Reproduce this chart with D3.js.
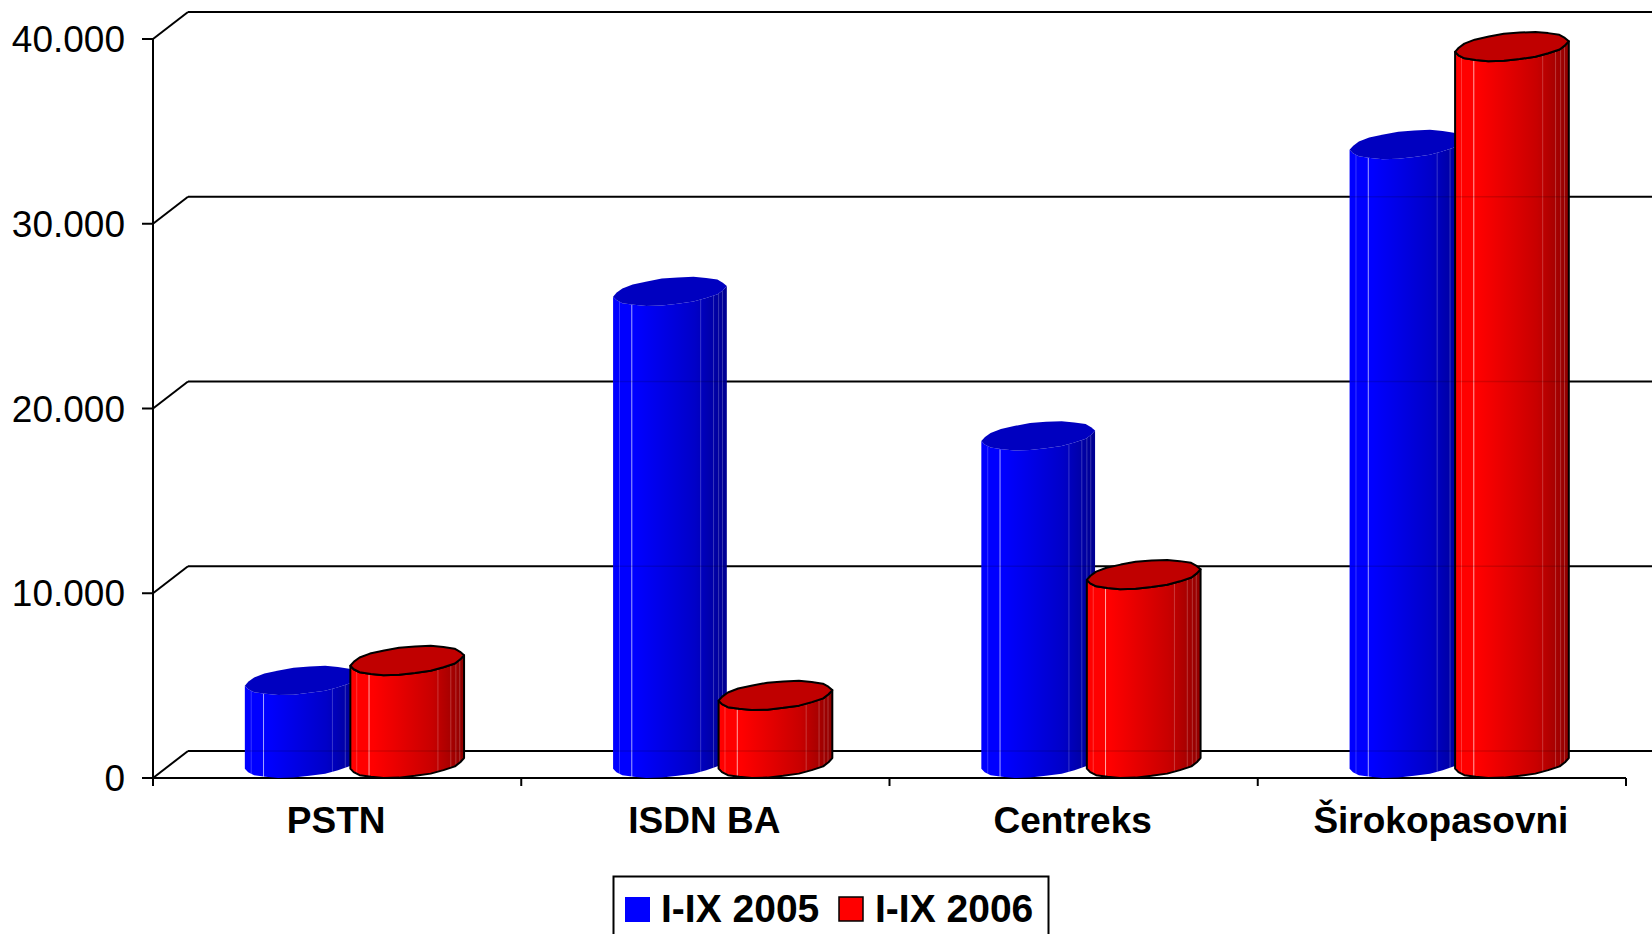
<!DOCTYPE html>
<html><head><meta charset="utf-8">
<script src="https://cdn.jsdelivr.net/npm/d3@7"></script>
<style>html,body{margin:0;padding:0;background:#fff;overflow:hidden}svg{display:block}text{font-family:"Liberation Sans",Arial,sans-serif;fill:#000}</style>
</head><body><svg id="c" width="1652" height="934"></svg>
<script>
const categories = ["PSTN","ISDN BA","Centreks","Širokopasovni"];
const seriesNames = ["I-IX 2005","I-IX 2006"];
const values2005 = [4490,25550,17730,33500];
const values2006 = [5570,3680,10220,38800];
const yTicks = [0,10000,20000,30000,40000];
const tickLabels = ["0","10.000","20.000","30.000","40.000"];

const svg = d3.select("#c");
const X0=153,X1=1626,Y0=778,Y1=39,DX=35,DY=27,RIGHT=1652;
const x = d3.scaleBand().domain(categories).range([X0,X1]);
const y = d3.scaleLinear().domain([0,40000]).range([Y0,Y1]);
const ln=(g,a,b,c,d,w=2)=>g.append("line").attr("x1",a).attr("y1",b).attr("x2",c).attr("y2",d).attr("stroke","#000").attr("stroke-width",w);

// gradients
const defs=svg.append("defs");
const palette={0:["#0000ff","#0000ff","#0000c8","#000090"],1:["#ff0000","#ff0000","#c80000","#900000"]};
[0,1].forEach(i=>{
  const g=defs.append("linearGradient").attr("id","g"+i).attr("x1",0).attr("x2",1).attr("y1",0).attr("y2",0);
  [0,.2,.72,1].forEach((o,k)=>g.append("stop").attr("offset",o).attr("stop-color",palette[i][k]));
});

// walls
const grid=svg.append("g");
yTicks.forEach((t,i)=>{
  const yy=y(t);
  ln(grid,X0-11,yy,X0,yy);
  ln(grid,X0,yy,X0+DX,yy-DY);
  ln(grid,X0+DX,yy-DY,RIGHT,yy-DY);
  svg.append("text").attr("x",125).attr("y",yy+13).attr("text-anchor","end").attr("font-size",37).text(tickLabels[i]);
});
ln(grid,X0,Y1,X0,Y0+7);
ln(grid,X0,Y0,X1,Y0);
x.domain().forEach(c=>ln(grid,x(c),Y0,x(c),Y0+8));
ln(grid,X1,Y0,X1,Y0+8);

categories.forEach(c=>svg.append("text").attr("x",x(c)+x.bandwidth()/2-1)
  .attr("y",833).attr("text-anchor","middle").attr("font-size",37).attr("font-weight","bold").text(c));

// cylinders
const A=56,B=13.5,K=5.2,N=22;
const wob=[.6,-.4,.5,-.3,.4,-.6,.3,.5,-.5,.3,-.2,.5,-.4,.3,.5,-.5,.4,-.3,.5,-.4,.3,-.5];
function pt(cx,cy,t,i){const r=1+(i==null?0:wob[i%N]*.028);
  return [cx+A*Math.cos(t)*r, cy+(B*Math.sin(t)-K*Math.cos(t))*r];}
function ring(cx,cy){return d3.range(N).map(i=>pt(cx,cy,i/N*2*Math.PI,i));}
const lineFracs=[-.9,-.68,.55,.78,.87,.94];

function drawCyl(cat,si,val){
  const cMid=x(cat)+x.bandwidth()/2+DX/2;
  const cx= si===0 ? cMid-53 : cMid+52.5;
  const base=Y0-14.6, top=y(val)-14.6;
  const g=svg.append("g");
  const stroke= si===1?"#000":"none";
  const lower=d3.range(0,N/2+1).map(i=>pt(cx,base,i/N*2*Math.PI,i));
  const upper=d3.range(N/2,-1,-1).map(i=>pt(cx,top,i/N*2*Math.PI,i));
  const body=[...lower,...upper];
  g.append("path").attr("d",d3.line()(body)+"Z").attr("fill",`url(#g${si})`);
  lineFracs.forEach((f,j)=>{
    const dx=f*A, off=B*Math.sqrt(1-f*f)-K*f;
    g.append("line").attr("x1",cx+dx).attr("x2",cx+dx).attr("y1",top+off).attr("y2",base+off)
      .attr("stroke","#fff").attr("stroke-opacity",j==1?.65:.22).attr("stroke-width",1);
  });
  // faint wall lines showing through the body
  yTicks.forEach(t=>{
    const gy=y(t)-DY;
    if(gy>top+B && gy<base+B-2) g.append("line").attr("x1",cx-A).attr("x2",cx+A).attr("y1",gy).attr("y2",gy)
      .attr("stroke","#000").attr("stroke-opacity",.14).attr("stroke-width",1.5);
  });
  if(si===1) g.append("path").attr("d",d3.line()(body)+"Z").attr("fill","none").attr("stroke","#000").attr("stroke-width",2).attr("stroke-linejoin","round");
  g.append("path").attr("d",d3.line()(ring(cx,top))+"Z").attr("fill",si===0?"#0000c0":"#c00000")
    .attr("stroke",stroke).attr("stroke-width",2).attr("stroke-linejoin","round");
}
categories.forEach((c,i)=>{drawCyl(c,0,values2005[i]);drawCyl(c,1,values2006[i]);});

// legend
svg.append("rect").attr("x",613.5).attr("y",876.5).attr("width",435).attr("height",70).attr("fill","#fff").attr("stroke","#000").attr("stroke-width",2);
const lx=[625,839],tx=[661,875];
seriesNames.forEach((s,i)=>{
  svg.append("rect").attr("x",lx[i]).attr("y",897).attr("width",i?24:25).attr("height",i?24:25)
    .attr("fill",i?"#ff0000":"#0000ff").attr("stroke",i?"#000":"none").attr("stroke-width",1.5);
  svg.append("text").attr("x",tx[i]).attr("y",922).attr("font-size",39).attr("font-weight","bold").text(s);
});
</script></body></html>
